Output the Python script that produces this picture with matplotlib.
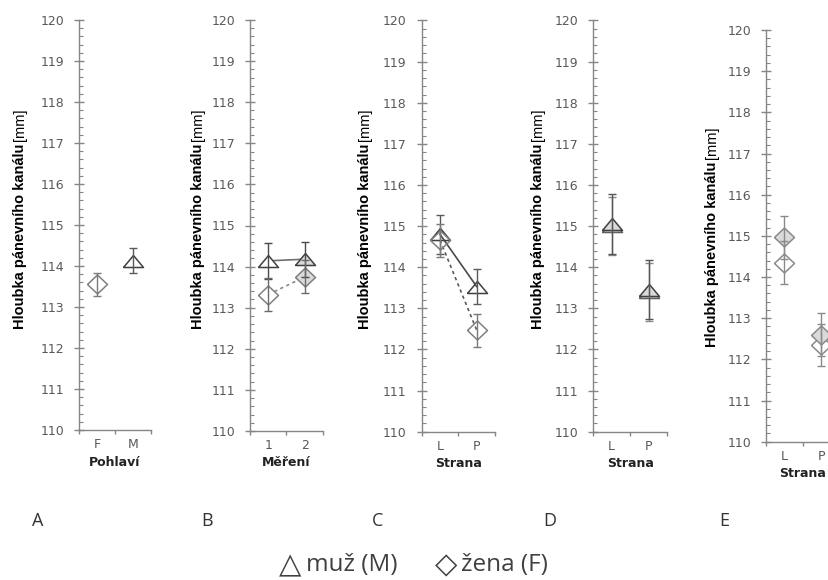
import matplotlib
matplotlib.use("Agg")
import matplotlib.pyplot as plt
from matplotlib.ticker import MultipleLocator

# ---------------- data ----------------
cats_A = ["F", "M"]
A_female = [113.55]; A_female_err = [0.28]
A_male = [114.13];   A_male_err = [0.30]

cats_B = ["1", "2"]
B_male = [114.14, 114.18];   B_male_err = [0.43, 0.43]
B_female = [113.32, 113.75]; B_female_err = [0.40, 0.40]

cats_C = ["L", "P"]
C_male = [114.80, 113.53];   C_male_err = [0.48, 0.42]
C_female = [114.66, 112.47]; C_female_err = [0.40, 0.40]

cats_D = ["L", "P"]
D_male1 = [115.05, 113.45]; D_male1_err = [0.73, 0.72]
D_male2 = [115.00, 113.40]; D_male2_err = [0.70, 0.70]

cats_E = ["L", "P"]
E_female1 = [114.35, 112.35]; E_female1_err = [0.53, 0.50]
E_female2 = [114.96, 112.60]; E_female2_err = [0.52, 0.52]

xlabels = ["Pohlaví", "Měření", "Strana", "Strana", "Strana"]
panel_letters = ["A", "B", "C", "D", "E"]
ylabel_bold = "Hloubka pánevního kanálu"
ylabel_unit = "[mm]"
legend_items = ["△", "muž (M)", "◇", "žena (F)"]

# ---------------- style ----------------
W, H = 829, 580
fig = plt.figure(figsize=(W / 100, H / 100), dpi=100)

TRI = [(-1, -0.6), (0, 0.6), (1, -0.6), (-1, -0.6)]
DIA = [(-1, 0), (0, 0.95), (1, 0), (0, -0.95), (-1, 0)]
MS = 14.4
AXC = "#868686"
TXC = "#595959"
MEDGE = "#404040"
FEDGE = "#808080"
GRAYFILL = "#dadada"

# axes boxes in pixels: left, right, top, bottom
boxes = [
    (79, 151, 20, 430),
    (250, 323, 20, 431),
    (421.7, 495, 20.5, 431.7),
    (593.3, 667, 20.5, 431.7),
    (766, 840, 30, 441.7),
]
label_x = [20, 198, 365, 538, 712]
label_yc = [219, 219, 219, 219, 237]
letter_x = [38, 207, 378, 550, 724]

axes = []
for (l, r, t, b) in boxes:
    ax = fig.add_axes([l / W, 1 - b / H, (r - l) / W, (b - t) / H])
    axes.append(ax)


def style(ax, cats, xlabel):
    ax.set_ylim(110, 120)
    ax.set_xlim(0, len(cats))
    ax.yaxis.set_major_locator(MultipleLocator(1))
    ax.yaxis.set_minor_locator(MultipleLocator(0.2))
    ax.set_xticks(range(len(cats) + 1))
    ax.set_xticklabels([])
    ax.set_xticks([i + 0.5 for i in range(len(cats))], minor=True)
    ax.set_xticklabels(cats, minor=True)
    for s in ["top", "right"]:
        ax.spines[s].set_visible(False)
    for s in ["left", "bottom"]:
        ax.spines[s].set_color(AXC)
        ax.spines[s].set_linewidth(1.0)
    ax.tick_params(axis="y", which="major", direction="inout", length=7.5,
                   width=1, color=AXC, labelsize=9, labelcolor=TXC, pad=7)
    ax.tick_params(axis="y", which="minor", direction="in", length=3,
                   width=0.8, color=AXC)
    ax.tick_params(axis="x", which="major", direction="out", length=3,
                   width=1, color=AXC)
    ax.tick_params(axis="x", which="minor", length=0, labelsize=9,
                   labelcolor=TXC, pad=6)
    ax.set_xlabel(xlabel, fontsize=9, fontweight="bold", color="#222222",
                  labelpad=3)
    ax.patch.set_alpha(0)


def series(ax, x, y, err, marker, face, edge, ecol, ls=None, lcol=None):
    if ls is not None:
        ax.plot(x, y, linestyle=ls, color=lcol, lw=1.2, zorder=2)
    ax.plot(x, y, linestyle="none", marker=marker, ms=MS, mfc=face,
            mec=edge, mew=1.1, zorder=3)
    ax.errorbar(x, y, yerr=err, fmt="none", ecolor=ecol, elinewidth=1,
                capsize=2.6, capthick=1, zorder=4)


# A
ax = axes[0]
style(ax, cats_A, xlabels[0])
series(ax, [0.5], A_female, A_female_err, DIA, "white", FEDGE, "#7a7a7a")
series(ax, [1.5], A_male, A_male_err, TRI, "white", MEDGE, "#5a5a5a")

# B
ax = axes[1]
style(ax, cats_B, xlabels[1])
xb = [0.5, 1.5]
ax.plot(xb, B_male, "-", color="#707070", lw=1.2, zorder=2)
ax.plot(xb, B_female, color="#8a8a8a", lw=1.2, dashes=(2, 2), zorder=2)
for i, fill in enumerate(["white", GRAYFILL]):
    series(ax, [xb[i]], [B_male[i]], [B_male_err[i]], TRI, fill, MEDGE, "#4a4a4a")
    series(ax, [xb[i]], [B_female[i]], [B_female_err[i]], DIA, fill, FEDGE, "#6a6a6a")

# C
ax = axes[2]
style(ax, cats_C, xlabels[2])
xc = [0.5, 1.5]
series(ax, xc, C_male, C_male_err, TRI, "none", MEDGE, "#5a5a5a", "-", "#4a4a4a")
series(ax, xc, C_female, C_female_err, DIA, "none", FEDGE, "#7a7a7a", (0, (2, 2)), "#5a5a5a")

# D
ax = axes[3]
style(ax, cats_D, xlabels[3])
xd = [0.5, 1.5]
series(ax, xd, D_male2, D_male2_err, TRI, GRAYFILL, "#606060", "#8a8a8a")
series(ax, xd, D_male1, D_male1_err, TRI, GRAYFILL, MEDGE, "#555555")

# E
ax = axes[4]
style(ax, cats_E, xlabels[4])
xe = [0.5, 1.5]
series(ax, xe, E_female1, E_female1_err, DIA, "white", "#8a8a8a", "#8a8a8a")
series(ax, xe, E_female2, E_female2_err, DIA, GRAYFILL, "#8a8a8a", "#8a8a8a")

# y labels: bold part + unit part, measured and centred
yl_font = ["Liberation Sans", "DejaVu Sans"]
texts = []
for i in range(5):
    t1 = fig.text(label_x[i] / W, 0.5, ylabel_bold, rotation=90,
                  rotation_mode="anchor", ha="left", va="center",
                  fontsize=10.5, fontweight="bold", family=yl_font, color="black")
    t2 = fig.text(label_x[i] / W, 0.5, ylabel_unit, rotation=90,
                  rotation_mode="anchor", ha="left", va="center",
                  fontsize=10.5, family=yl_font, color="black")
    texts.append((t1, t2))
fig.canvas.draw()
r = fig.canvas.get_renderer()
for i, (t1, t2) in enumerate(texts):
    h1 = t1.get_window_extent(r).height
    h2 = t2.get_window_extent(r).height
    gap = 3
    total = h1 + gap + h2
    yc = H - label_yc[i]
    y0 = yc - total / 2
    t1.set_position((label_x[i] / W, y0 / H))
    t2.set_position((label_x[i] / W, (y0 + h1 + gap) / H))

# panel letters
for i, L in enumerate(panel_letters):
    fig.text(letter_x[i] / W, 1 - 521 / H, L, ha="center", va="center",
             fontsize=13, family=["Open Sans", "DejaVu Sans"], color="#333333")

# legend (symbols + labels as text)
leg_x = [290, 306, 446, 461]
leg_ha = ["center", "left", "center", "left"]
leg_fs = [21, 17.5, 21, 17.5]
for txt, x, ha, fs in zip(legend_items, leg_x, leg_ha, leg_fs):
    is_sym = txt in ("△", "◇")
    fig.text(x / W, 1 - 565 / H, txt, ha=ha, va="center", fontsize=fs,
             family=["DejaVu Sans"] if is_sym else ["Open Sans", "DejaVu Sans"],
             color="#404040")

fig.savefig("out.png", dpi=100)
